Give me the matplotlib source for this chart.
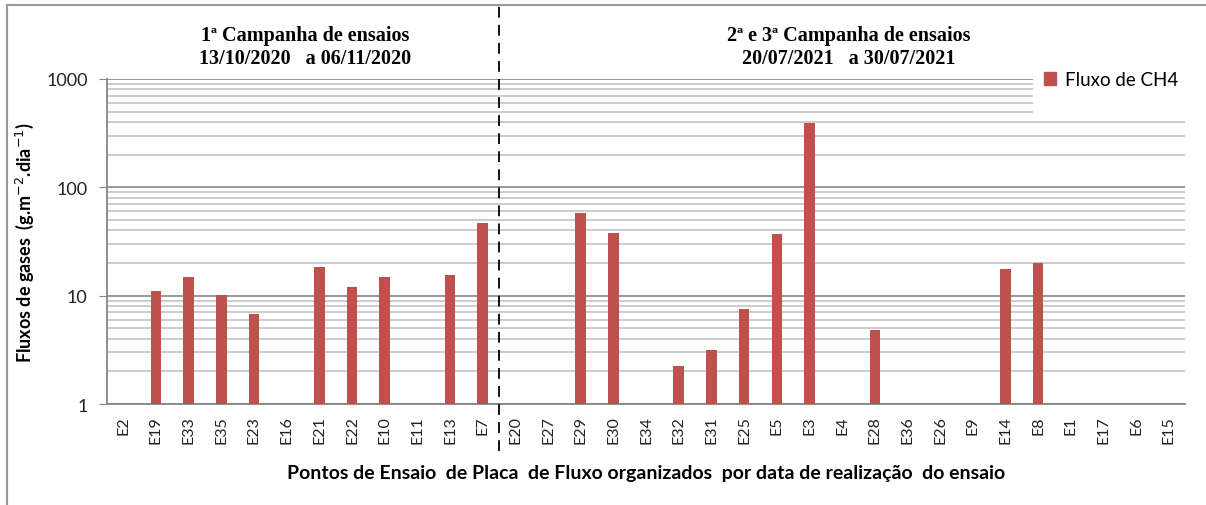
import numpy as np
import matplotlib.pyplot as plt
from matplotlib.lines import Line2D
from matplotlib.patches import Patch, Rectangle

# ensaios organizados por data de realizacao
pontos = ['E2', 'E19', 'E33', 'E35', 'E23', 'E16', 'E21', 'E22', 'E10', 'E11', 'E13', 'E7',
          'E20', 'E27', 'E29', 'E30', 'E34', 'E32', 'E31', 'E25', 'E5', 'E3', 'E4', 'E28',
          'E36', 'E26', 'E9', 'E14', 'E8', 'E1', 'E17', 'E6', 'E15']
# fluxo de CH4 (g.m-2.dia-1); nan = sem fluxo medido
fluxo_ch4 = [np.nan, 11.0, 15.0, 10.2, 6.8, np.nan, 18.5, 11.9, 15.0, np.nan, 15.6, 47.0,
             np.nan, np.nan, 58.5, 38.2, np.nan, 2.24, 3.17, 7.5, 37.1, 391.0, np.nan, 4.8,
             np.nan, np.nan, np.nan, 17.6, 20.0, np.nan, np.nan, np.nan, np.nan]
n_campanha1 = 12

bar_color = '#C0504D'
sans = ['Lato', 'DejaVu Sans']
serif = ['Liberation Serif', 'DejaVu Serif']

fig = plt.figure(figsize=(12.06, 5.06), dpi=100)
ax = fig.add_axes([0.0887, 0.1996, 0.894, 0.6424])
ax.set_yscale('log')

x = np.arange(len(pontos))
vals = np.array(fluxo_ch4, dtype=float)
mask = ~np.isnan(vals)
ax.bar(x[mask], vals[mask], width=0.32, color=bar_color, zorder=3)

ax.set_ylim(1, 1000)
ax.set_xlim(-0.5, len(pontos) - 0.5)

ax.set_yticks([1, 10, 100, 1000])
ax.set_yticklabels(['1', '10', '100', '1000'], fontsize=13, family=sans, color='#222222')
ax.set_xticks(x)
ax.set_xticklabels(pontos, rotation=90, fontsize=11.5, family=sans, color='#222222')
ax.tick_params(axis='x', length=0, pad=8)
ax.tick_params(axis='y', which='major', length=6, color='#868686', pad=8)
ax.tick_params(axis='y', which='minor', length=0)

ax.grid(True, which='major', axis='y', color='#868686', linewidth=1.2)
ax.grid(True, which='minor', axis='y', color='#c4c4c4', linewidth=1.2)
for s in ['top', 'right']:
    ax.spines[s].set_visible(False)
for s in ['left', 'bottom']:
    ax.spines[s].set_color('#868686')
    ax.spines[s].set_linewidth(1.3)

ax.set_ylabel('Fluxos de gases  (g.m$^{-2}$.dia$^{-1}$)', fontsize=13,
              fontweight='bold', family=sans, labelpad=7)
ax.set_xlabel('Pontos de Ensaio  de Placa  de Fluxo organizados  por data de realização  do ensaio',
              fontsize=14, fontweight='bold', family=sans, labelpad=15)

# separacao entre campanhas
x_sep = n_campanha1 - 0.5
ax.add_line(Line2D([x_sep, x_sep], [-0.145, 1.23], transform=ax.get_xaxis_transform(),
                   color='black', linestyle=(0, (6, 4)), linewidth=1.3, clip_on=False, zorder=5))

ax.text(5.56, 1.1, '1ª Campanha de ensaios\n13/10/2020   a 06/11/2020',
        transform=ax.get_xaxis_transform(), ha='center', va='center', fontsize=14.5,
        fontweight='bold', family=serif, linespacing=1.15)
ax.text(22.2, 1.1, '2ª e 3ª Campanha de ensaios\n20/07/2021   a 30/07/2021',
        transform=ax.get_xaxis_transform(), ha='center', va='center', fontsize=14.5,
        fontweight='bold', family=serif, linespacing=1.15)

# area branca da legenda por cima da grelha
ax.add_patch(Rectangle((0.859, 0.886), 0.141, 0.13, transform=ax.transAxes,
                       facecolor='white', edgecolor='none', zorder=2.5, clip_on=False))
ax.legend(handles=[Patch(color=bar_color, label='Fluxo de CH4')], loc='center left',
          bbox_to_anchor=(0.869, 0.998), frameon=False, borderpad=0, borderaxespad=0,
          handlelength=0.65, handleheight=0.65, handletextpad=0.45,
          prop={'family': sans, 'size': 13.5})

# moldura da figura
fig.add_artist(Line2D([7 / 1206, 7 / 1206], [0, 1 - 6 / 506], color='#9a9a9a', linewidth=1.5))
fig.add_artist(Line2D([7 / 1206, 1], [1 - 6 / 506, 1 - 6 / 506], color='#9a9a9a', linewidth=1.5))

fig.savefig('out.png', dpi=100)
